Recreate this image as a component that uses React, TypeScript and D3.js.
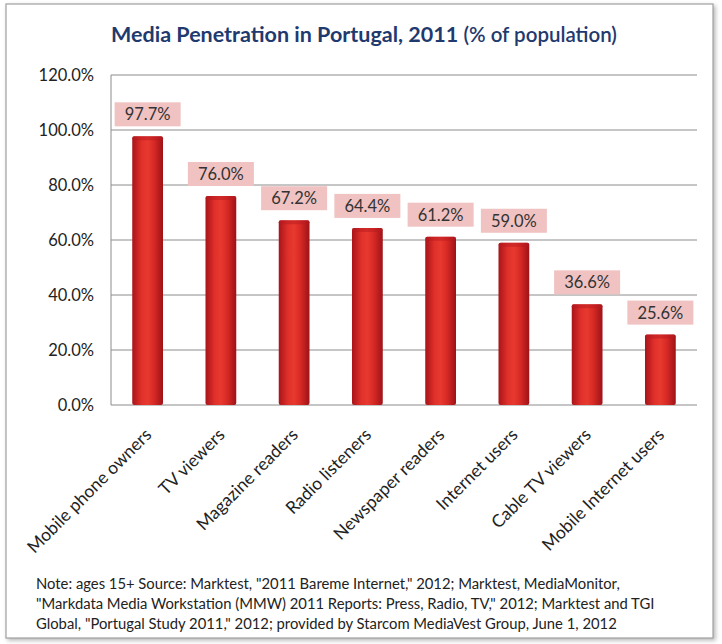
import React from "react";
import * as d3 from "d3";

const categories = [
  "Mobile phone owners",
  "TV viewers",
  "Magazine readers",
  "Radio listeners",
  "Newspaper readers",
  "Internet users",
  "Cable TV viewers",
  "Mobile Internet users",
];
const values = [97.7, 76.0, 67.2, 64.4, 61.2, 59.0, 36.6, 25.6];
const yTicks = [0, 20, 40, 60, 80, 100, 120];
const noteLines = [
  'Note: ages 15+ Source: Marktest, "2011 Bareme Internet," 2012; Marktest, MediaMonitor,',
  '"Markdata Media Workstation (MMW) 2011 Reports: Press, Radio, TV," 2012; Marktest and TGI',
  'Global, "Portugal Study 2011," 2012; provided by Starcom MediaVest Group, June 1, 2012',
];

const W = 722;
const H = 644;
const left = 111;
const right = 697;
const top = 75;
const bottom = 405;
const font = "Lato, 'Open Sans', sans-serif";

export default function App() {
  const x = d3.scaleBand<string>().domain(categories).range([left, right]).paddingInner(0.58).paddingOuter(0.29);
  const y = d3.scaleLinear().domain([0, 120]).range([bottom, top]);
  const bw = x.bandwidth();

  return (
    <svg width={W} height={H} style={{ position: "absolute", left: 0, top: 0 }}>
      <defs>
        <linearGradient id="barg" x1="0" x2="1" y1="0" y2="0">
          <stop offset="0" stopColor="#a8141a" />
          <stop offset="0.3" stopColor="#e0302a" />
          <stop offset="0.5" stopColor="#e8392f" />
          <stop offset="0.7" stopColor="#d82a25" />
          <stop offset="1" stopColor="#9e1218" />
        </linearGradient>
        <filter id="sh" x="-5%" y="-5%" width="110%" height="110%">
          <feDropShadow dx="2" dy="2" stdDeviation="2" floodColor="#888" floodOpacity="0.6" />
        </filter>
      </defs>
      <rect x={0} y={0} width={W} height={H} fill="#ffffff" />
      <rect x={6} y={4} width={707} height={634} fill="#ffffff" stroke="#a0a0a0" strokeWidth={1.2} filter="url(#sh)" />
      <text x={364} y={42} textAnchor="middle" fill="#1f3a6e" fontFamily={font} fontSize={21.5}>
        <tspan fontWeight="bold">Media Penetration in Portugal, 2011 </tspan>
        <tspan fontWeight="600" fontSize={20.5}>(% of population)</tspan>
      </text>
      {yTicks.map((t) => (
        <line key={t} x1={left} x2={right} y1={y(t)} y2={y(t)} stroke="#8c8c8c" strokeWidth={1} />
      ))}
      <line x1={left} x2={left} y1={top} y2={bottom} stroke="#8c8c8c" strokeWidth={1} />
      {yTicks.map((t) => (
        <text key={t} x={94} y={y(t) + 5.5} textAnchor="end" fontFamily={font} fontSize={16.5} fill="#222">
          {t.toFixed(1)}%
        </text>
      ))}
      {categories.map((c, i) => {
        const cx = (x(c) as number) + bw / 2;
        const v = values[i];
        return (
          <g key={c}>
            <rect x={x(c)} y={y(v)} width={bw} height={bottom - y(v)} fill="url(#barg)" rx={2} />
            <rect x={x(c)} y={y(v)} width={bw} height={4} fill="#b81a1f" opacity={0.5} rx={2} />
            <rect x={cx - 33} y={y(v) - 34} width={66} height={24} fill="#f0c2c2" />
            <text x={cx} y={y(v) - 16} textAnchor="middle" fontFamily={font} fontSize={16.5} fill="#333">
              {v.toFixed(1)}%
            </text>
            <text
              transform={`translate(${cx + 5},${bottom + 31}) rotate(-45)`}
              textAnchor="end"
              fontFamily={font}
              fontSize={17.5}
              fill="#222"
            >
              {c}
            </text>
          </g>
        );
      })}
      {noteLines.map((l, i) => (
        <text key={i} x={36} y={589 + i * 20} fontFamily={font} fontSize={14.8} fill="#222">
          {l}
        </text>
      ))}
    </svg>
  );
}
